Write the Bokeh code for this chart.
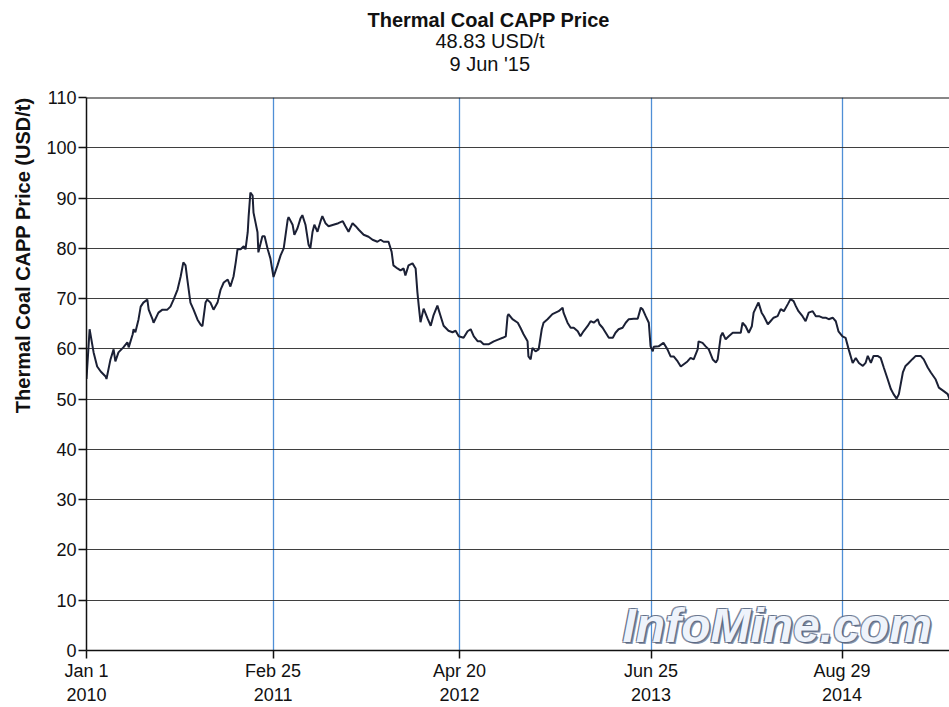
import pandas as pd
from bokeh.plotting import figure
from bokeh.models import Label, Span, FixedTicker, SingleIntervalTicker, Range1d, ColumnDataSource, Title
from bokeh.embed import file_html
from bokeh.resources import INLINE

# ---- data ----
start_date = "2010-01-01"
days_a = [0, 7, 16, 24, 32, 43, 45, 54, 61, 65, 72, 83, 92, 95, 104, 106, 110, 117, 122, 128,
          137, 140, 149, 151, 162, 171, 182, 189, 196, 205, 212, 218, 223, 227, 234, 241, 250, 257, 261, 268,
          272, 279, 286, 295, 302, 309, 318, 324, 331, 336, 340, 347, 354, 358, 363, 365, 369, 374, 376, 385,
          387, 396, 401, 408]
price_a = [54.0, 63.9, 59.3, 56.5, 55.5, 54.5, 54.0, 57.9, 59.9, 57.5, 59.3, 60.3, 61.3, 60.3, 62.9, 63.9, 63.3, 65.8, 68.4, 69.2,
           69.8, 67.8, 65.8, 65.2, 67.2, 67.8, 67.8, 68.4, 69.8, 71.8, 74.4, 77.2, 76.6, 73.8, 69.2, 67.8, 65.8, 64.8, 64.5, 69.2,
           69.8, 69.2, 67.8, 69.2, 71.8, 73.2, 73.8, 72.4, 74.4, 77.2, 79.8, 79.8, 80.4, 79.8, 83.2, 86.3, 91.1, 90.5, 87.1, 83.2,
           79.2, 82.4, 82.4, 79.8]
days_b = [414, 421, 430, 437, 444, 453, 455, 464, 468, 475, 482, 486, 493, 500, 504, 509, 513, 520, 527, 531,
          538, 545, 556, 567, 577, 583, 590, 599, 606, 613, 624, 635, 644, 655, 662, 669, 680, 687, 691, 700,
          707, 714, 718, 725, 734, 741, 745, 748, 752, 759, 768, 775, 781, 790, 797, 804, 815, 824]
price_b = [78.0, 74.3, 76.6, 78.6, 80.0, 85.7, 86.2, 84.7, 82.7, 84.0, 86.0, 86.6, 84.7, 80.7, 80.0, 83.3, 84.7, 83.3, 85.4, 86.4,
           85.0, 84.4, 84.7, 85.0, 85.4, 84.4, 83.3, 85.0, 84.4, 83.7, 82.7, 82.3, 81.7, 81.3, 81.7, 81.3, 81.3, 79.3, 76.6, 76.0,
           75.6, 76.0, 74.6, 76.6, 77.0, 76.0, 71.3, 68.6, 65.3, 68.0, 66.0, 64.6, 66.6, 68.6, 66.6, 64.6, 63.6, 63.3]
days_c = [831, 838, 849, 858, 865, 872, 881, 887, 894, 905, 917, 928, 937, 944, 948, 950, 959, 971, 977, 984,
          993, 995, 1000, 1004, 1011, 1018, 1025, 1029, 1038, 1049, 1056, 1063, 1072, 1074, 1083, 1090, 1097, 1106, 1112, 1119,
          1128, 1135, 1142, 1151, 1155, 1162, 1169, 1176, 1185, 1191, 1198, 1207, 1214, 1221, 1232, 1241, 1248, 1252, 1259, 1266,
          1270]
price_c = [63.6, 62.5, 62.2, 63.5, 63.9, 62.5, 61.5, 61.5, 60.9, 60.9, 61.5, 61.9, 62.2, 62.5, 66.5, 66.9, 65.9, 65.2, 64.2, 62.9,
           61.5, 58.5, 57.9, 60.2, 59.5, 59.9, 63.9, 65.2, 65.9, 66.9, 67.2, 67.5, 68.2, 67.2, 65.2, 64.2, 64.2, 63.5, 62.5, 63.5,
           64.5, 65.5, 65.2, 65.9, 64.9, 64.2, 63.2, 62.2, 62.2, 63.2, 63.9, 64.2, 65.2, 65.9, 66.0, 66.0, 68.2, 67.9, 66.5, 65.2,
           60.5]
days_d = [1275, 1277, 1288, 1299, 1308, 1315, 1322, 1331, 1338, 1344, 1353, 1360, 1367, 1376, 1378, 1387, 1394, 1401, 1410, 1417,
          1421, 1428, 1432, 1439, 1446, 1455, 1466, 1473, 1477, 1484, 1491, 1498, 1502, 1511, 1513, 1520, 1525, 1534, 1540, 1547,
          1556, 1563, 1570, 1579, 1585, 1592, 1597, 1603, 1612, 1619, 1626, 1635, 1642, 1649, 1657, 1664, 1671, 1680, 1687]
price_d = [59.5, 60.4, 60.5, 61.2, 59.9, 58.5, 58.5, 57.5, 56.5, 56.9, 57.5, 58.2, 57.9, 59.9, 61.5, 61.2, 60.5, 59.9, 57.9, 57.3,
           57.9, 62.5, 63.2, 61.9, 62.5, 63.2, 63.2, 63.2, 65.2, 64.5, 63.2, 64.5, 67.2, 68.9, 69.2, 67.2, 66.5, 64.9, 65.5, 66.2,
           66.5, 67.9, 67.5, 68.9, 69.9, 69.5, 68.5, 67.5, 66.5, 65.5, 67.2, 67.5, 66.5, 66.5, 66.2, 66.2, 65.9, 66.2, 65.5]
days_e = [1693, 1702, 1709, 1716, 1725, 1732, 1739, 1748, 1754, 1759, 1766, 1772, 1781, 1788, 1795, 1804, 1811, 1817, 1824, 1829,
          1838, 1844, 1851, 1860, 1867, 1878, 1885, 1894, 1901, 1912, 1919, 1930, 1939, 1943, 1962, 1985]
price_e = [63.5, 62.5, 62.2, 59.9, 57.2, 58.2, 57.2, 56.6, 57.2, 58.6, 57.2, 58.6, 58.6, 58.2, 56.3, 53.9, 52.0, 51.0, 50.1, 51.0,
           55.3, 56.6, 57.2, 58.0, 58.6, 58.6, 57.9, 56.3, 55.3, 53.9, 52.3, 51.6, 51.0, 50.0, 49.4, 48.83]

tick_dates = ["2010-01-01", "2011-02-25", "2012-04-20", "2013-06-25", "2014-08-29"]
tick_labels = ["Jan 1\n2010", "Feb 25\n2011", "Apr 20\n2012", "Jun 25\n2013", "Aug 29\n2014"]

title_text = "Thermal Coal CAPP Price"
last_value_text = "48.83 USD/t"
last_date_text = "9 Jun '15"
y_label_text = "Thermal Coal CAPP Price (USD/t)"
watermark_text = "InfoMine.com"

# ---- build ----
days = days_a + days_b + days_c + days_d + days_e
prices = price_a + price_b + price_c + price_d + price_e
dates = pd.Timestamp(start_date) + pd.to_timedelta(days, unit="D")
src = ColumnDataSource(dict(date=dates, price=prices))

FONT = "Liberation Sans"
x_start = pd.Timestamp(start_date)
x_end = x_start + pd.Timedelta(days=1943)

p = figure(width=949, height=707, x_axis_type="datetime", output_backend="svg",
           toolbar_location=None, x_range=Range1d(x_start, x_end), y_range=Range1d(0, 110),
           min_border_left=86, min_border_right=0, min_border_top=97, min_border_bottom=57)
p.outline_line_color = None
p.background_fill_color = "white"
p.border_fill_color = "white"

tick_ms = [int(pd.Timestamp(d).value // 10**6) for d in tick_dates]
p.xaxis.ticker = FixedTicker(ticks=tick_ms)
p.xaxis.major_label_overrides = {t: l for t, l in zip(tick_ms, tick_labels)}
p.xaxis.minor_tick_line_color = None
p.yaxis.ticker = SingleIntervalTicker(interval=10)
p.yaxis.minor_tick_line_color = None

for ax in (p.xaxis, p.yaxis):
    ax.axis_line_color = "#111111"
    ax.axis_line_width = 1.5
    ax.major_tick_line_color = "#111111"
    ax.major_tick_line_width = 1.5
    ax.major_tick_out = 8
    ax.major_tick_in = 0
    ax.major_label_text_font = FONT
    ax.major_label_text_font_size = "18px"
    ax.major_label_text_color = "#111111"
    ax.major_label_standoff = 2

p.xgrid.grid_line_color = "#4f8fd6"
p.xgrid.grid_line_width = 1.3
p.ygrid.grid_line_color = "#2a2a2a"
p.ygrid.grid_line_width = 1
p.ygrid.grid_line_alpha = 0.9

p.add_layout(Span(location=110, dimension="width", line_color="#111111", line_width=2))

# watermark
wm_x, wm_y = 536, 25
for dx, dy in [(-1.2, -1.2), (1.2, -1.2), (-1.2, 1.2), (1.2, 1.2), (2.2, -2.2)]:
    p.add_layout(Label(x=wm_x + dx, y=wm_y + dy, x_units="screen", y_units="screen", text=watermark_text,
                       text_font=FONT, text_font_style="bold italic", text_font_size="48px",
                       text_color="#55647f", text_alpha=0.7, text_baseline="alphabetic"))
p.add_layout(Label(x=wm_x, y=wm_y, x_units="screen", y_units="screen", text=watermark_text,
                   text_font=FONT, text_font_style="bold italic", text_font_size="48px",
                   text_color="#eef3fb", text_baseline="alphabetic"))

p.line("date", "price", source=src, line_color="#1b2035", line_width=2)

# titles (added nearest-to-frame first); a blank spacer keeps them clear of the frame
p.add_layout(Title(text=" ", align="left", standoff=0, text_font=FONT, text_font_size="19px"), "above")
p.add_layout(Title(text=last_date_text, align="left", offset=363, standoff=0,
                   text_font=FONT, text_font_style="normal", text_font_size="20px", text_color="#111111"), "above")
p.add_layout(Title(text=last_value_text, align="left", offset=349, standoff=-3,
                   text_font=FONT, text_font_style="normal", text_font_size="20px", text_color="#111111"), "above")
p.add_layout(Title(text=title_text, align="left", offset=281, standoff=-2,
                   text_font=FONT, text_font_style="bold", text_font_size="20px", text_color="#111111"), "above")

# y axis title, top-aligned like the reference
p.add_layout(Title(text=y_label_text, align="right", offset=0, standoff=19,
                   text_font=FONT, text_font_style="bold", text_font_size="20px", text_color="#111111"), "left")

open("out.html", "w").write(file_html(p, INLINE))
